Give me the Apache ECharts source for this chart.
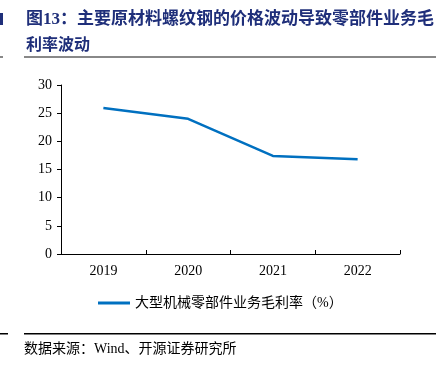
<!DOCTYPE html>
<html><head><meta charset="utf-8">
<script src="https://cdn.jsdelivr.net/npm/echarts@6/dist/echarts.min.js"></script>
<style>html,body{margin:0;padding:0;background:#fff}#c{width:440px;height:371px}</style>
</head><body><div id="c"></div>
<script>
const categories = ['2019', '2020', '2021', '2022'];
const marginValues = [25.9, 24.0, 17.4, 16.8];
const seriesName = '大型机械零部件业务毛利率（%）';
const yTicks = [0, 5, 10, 15, 20, 25, 30];

const serif = '"Liberation Serif","DejaVu Serif",serif';
const cjk = '"Liberation Serif","Noto Sans CJK SC",serif';
const chart = echarts.init(document.getElementById('c'));
chart.setOption({
  animation: false,
  grid: {left: 61, right: 40, top: 85, bottom: 117},
  xAxis: {
    type: 'category', data: categories, boundaryGap: true,
    axisLine: {lineStyle: {color: '#000', width: 1}},
    axisTick: {show: true, inside: true, length: 4, lineStyle: {color: '#000'}},
    axisLabel: {color: '#000', fontFamily: serif, fontSize: 14, margin: 10}
  },
  yAxis: {
    type: 'value', min: yTicks[0], max: yTicks[yTicks.length - 1], interval: 5,
    splitLine: {show: false},
    axisLine: {show: true, lineStyle: {color: '#000', width: 1}},
    axisTick: {show: true, length: 4, lineStyle: {color: '#000'}},
    axisLabel: {color: '#000', fontFamily: serif, fontSize: 14, margin: 9}
  },
  legend: {
    data: [seriesName], bottom: 61, left: 98, padding: 0,
    itemWidth: 32, itemHeight: 3, itemGap: 5,
    icon: 'rect',
    textStyle: {color: '#000', fontFamily: cjk, fontSize: 14}
  },
  series: [{
    name: seriesName, type: 'line', data: marginValues,
    symbol: 'none', lineStyle: {color: '#0070C0', width: 2.5},
    itemStyle: {color: '#0070C0'}
  }],
  graphic: [
    {type: 'text', left: 26, top: 11, style: {text: '图13：主要原材料螺纹钢的价格波动导致零部件业务毛', fill: '#1F2F7A', font: 'bold 17px "Liberation Serif","Noto Sans CJK SC",serif'}},
    {type: 'text', left: 26, top: 36, style: {text: '利率波动', fill: '#1F2F7A', font: 'bold 16px "Noto Sans CJK SC",serif'}},
    {type: 'rect', shape: {x: 24, y: 56, width: 412, height: 2}, style: {fill: '#888'}},
    {type: 'rect', shape: {x: 0, y: 56, width: 3, height: 2}, style: {fill: '#888'}},
    {type: 'rect', shape: {x: 0, y: 13, width: 3, height: 12}, style: {fill: '#1F2F7A'}},
    {type: 'rect', shape: {x: 24, y: 333, width: 412, height: 1.5}, style: {fill: '#000'}},
    {type: 'rect', shape: {x: 0, y: 333, width: 8, height: 1.5}, style: {fill: '#000'}},
    {type: 'text', left: 24, top: 342, style: {text: '数据来源：Wind、开源证券研究所', fill: '#000', font: '14px "Liberation Serif","Noto Sans CJK SC",serif'}}
  ]
});
</script></body></html>
